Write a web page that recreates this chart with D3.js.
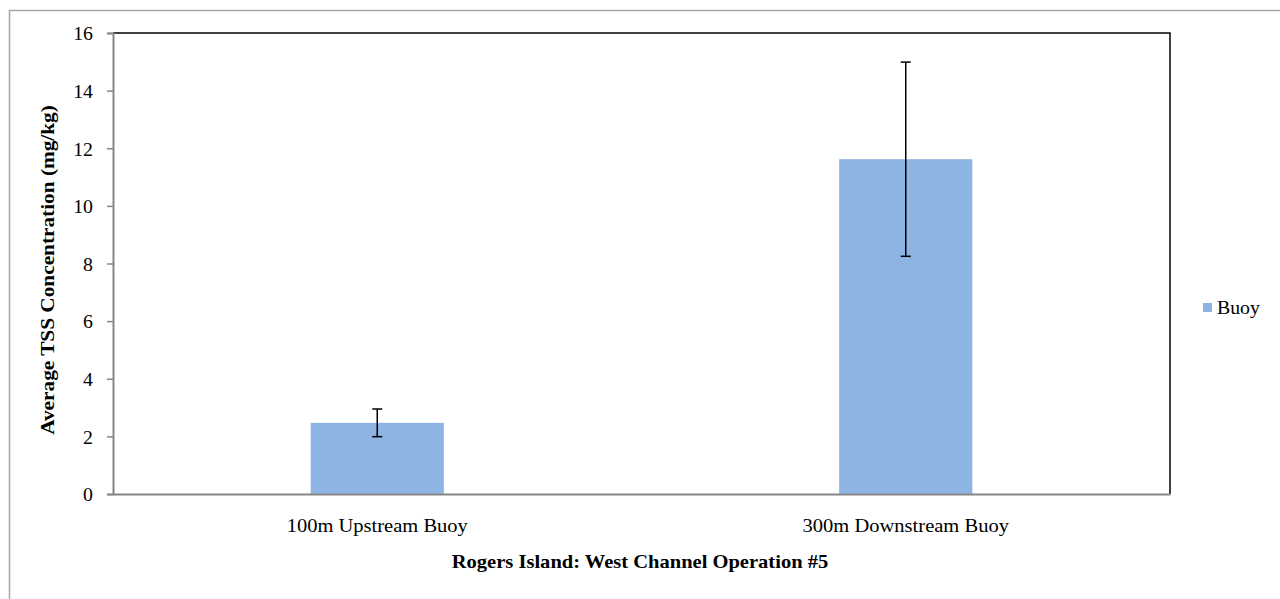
<!DOCTYPE html>
<html><head><meta charset="utf-8">
<script src="https://cdn.jsdelivr.net/npm/d3@7"></script>
<style>body{margin:0;background:#fff}svg{display:block}text{font-family:'Liberation Serif','Times New Roman',serif}</style>
</head><body>
<script>
const categories = ["100m Upstream Buoy", "300m Downstream Buoy"];
const values = [2.47, 11.62];
const errors = [0.48, 3.37];
const yTicks = [0, 2, 4, 6, 8, 10, 12, 14, 16];
const seriesName = "Buoy";
const xTitle = "Rogers Island: West Channel Operation #5";
const yTitle = "Average TSS Concentration (mg/kg)";

const W = 1280, H = 599;
const m = {left: 113, top: 33, right: 1170, bottom: 494};
const svg = d3.select("body").append("svg").attr("width", W).attr("height", H);
const font = "'Liberation Serif', 'Times New Roman', serif";

function stretch(sel, f) {
  sel.each(function() {
    const w = this.getComputedTextLength();
    d3.select(this).attr("textLength", w * f).attr("lengthAdjust", "spacingAndGlyphs");
  });
}

// outer frame
svg.append("rect").attr("x", 9.5).attr("y", 10.5).attr("width", 1300).attr("height", 700)
  .attr("fill", "none").attr("stroke", "#a6a6a6").attr("stroke-width", 1.5);

const x = d3.scaleBand().domain(categories).range([m.left, m.right]).paddingInner(0).paddingOuter(0);
const y = d3.scaleLinear().domain([0, 16]).range([m.bottom, m.top]);
const bw = x.bandwidth() * 0.252;

// plot border top/right
svg.append("path").attr("d", `M${m.left},${m.top}H${m.right}V${m.bottom}`)
  .attr("fill", "none").attr("stroke", "#000").attr("stroke-width", 1.5);

// bars
svg.selectAll("rect.bar").data(categories).enter().append("rect")
  .attr("x", d => x(d) + x.bandwidth() / 2 - bw / 2)
  .attr("width", bw)
  .attr("y", (d, i) => y(values[i]))
  .attr("height", (d, i) => y(0) - y(values[i]))
  .attr("fill", "#8EB4E3");

// error bars
const eg = svg.append("g").attr("stroke", "#000").attr("stroke-width", 1.5);
categories.forEach((c, i) => {
  const cx = x(c) + x.bandwidth() / 2;
  const y1 = y(values[i] + errors[i]), y2 = y(values[i] - errors[i]);
  eg.append("line").attr("x1", cx).attr("x2", cx).attr("y1", y1).attr("y2", y2);
  eg.append("line").attr("x1", cx - 5).attr("x2", cx + 5).attr("y1", y1).attr("y2", y1);
  eg.append("line").attr("x1", cx - 5).attr("x2", cx + 5).attr("y1", y2).attr("y2", y2);
});

// y axis
const ya = svg.append("g").attr("transform", `translate(${m.left},0)`)
  .call(d3.axisLeft(y).tickValues(yTicks).tickSize(6).tickPadding(14));
ya.attr("font-family", font);
ya.select(".domain").attr("stroke", "#868686").attr("stroke-width", 2);
ya.selectAll(".tick line").attr("stroke", "#868686").attr("stroke-width", 1.5);
ya.selectAll("text").attr("font-family", font).attr("font-size", 18).attr("fill", "#000").attr("dy", "0.38em");
stretch(ya.selectAll("text"), 1.1);

// x axis
const xa = svg.append("g").attr("transform", `translate(0,${m.bottom})`)
  .call(d3.axisBottom(x).tickSize(0).tickPadding(25));
xa.attr("font-family", font);
xa.select(".domain").attr("stroke", "#868686").attr("stroke-width", 2);
xa.selectAll("text").attr("font-family", font).attr("font-size", 19).attr("fill", "#000");
stretch(xa.selectAll("text"), 1.08);

// titles
const xt = svg.append("text").attr("x", 640).attr("y", 568).attr("text-anchor", "middle")
  .attr("font-family", font).attr("font-size", 19).attr("font-weight", "bold").text(xTitle);
stretch(xt, 1.08);
const yt = svg.append("text").attr("transform", "translate(54,270) rotate(-90)").attr("text-anchor", "middle")
  .attr("font-family", font).attr("font-size", 19).attr("font-weight", "bold").text(yTitle);
stretch(yt, 1.12);

// legend
svg.append("rect").attr("x", 1203).attr("y", 303).attr("width", 9).attr("height", 9).attr("fill", "#8EB4E3");
const lt = svg.append("text").attr("x", 1217).attr("y", 314).attr("font-family", font).attr("font-size", 18).text(seriesName);
stretch(lt, 1.1);
</script>
</body></html>
